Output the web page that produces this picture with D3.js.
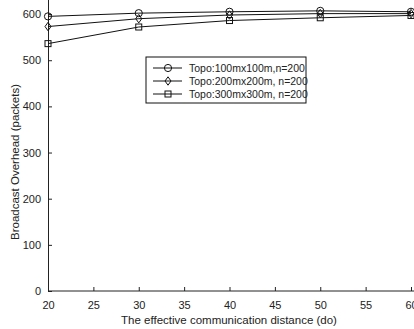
<!DOCTYPE html>
<html>
<head>
<meta charset="utf-8">
<script src="https://cdn.jsdelivr.net/npm/d3@7"></script>
<style>
  body { margin: 0; background: #fff; overflow: hidden; }
  svg { display: block; font-family: "Liberation Sans", Arial, sans-serif; }
</style>
</head>
<body>
<div id="chart"></div>
<script>
const distances = [20, 30, 40, 50, 60]
const topo100 = [595, 602, 605, 607, 605]
const topo200 = [573, 590, 598, 601, 601]
const topo300 = [536, 572, 586, 592, 597]
const seriesNames = ["Topo:100mx100m,n=200", "Topo:200mx200m, n=200", "Topo:300mx300m, n=200"]
const seriesShapes = ["circle", "diamond", "square"]
const xTicks = [20, 25, 30, 35, 40, 45, 50, 55, 60]
const yTicks = [0, 100, 200, 300, 400, 500, 600]

const W = 414, H = 329

const svg = d3.select("#chart").append("svg")
  .attr("width", W)
  .attr("height", H)

const x = d3.scaleLinear().domain([20, 60]).range([48, 411])
const y = d3.scaleLinear().domain([0, 650]).range([291, -9])

// axes (ticks point inward, like the matlab figure)
svg.append("g")
  .attr("transform", `translate(0, ${y(0)})`)
  .call(d3.axisBottom(x).tickValues(xTicks).tickSizeInner(-4).tickSizeOuter(0).tickPadding(10))
  .call(g => g.select(".domain").attr("d", `M${x(20)},0H${W + 10}`))

svg.append("g")
  .attr("transform", `translate(${x(20)}, 0)`)
  .call(d3.axisLeft(y).tickValues(yTicks).tickSizeInner(-4).tickSizeOuter(0).tickPadding(7))

svg.selectAll(".tick text").attr("font-size", 11).attr("fill", "#222")
svg.selectAll(".tick line, .domain").attr("stroke", "#222")

// labels
svg.append("text")
  .attr("x", 229)
  .attr("y", 324)
  .attr("text-anchor", "middle")
  .attr("font-size", 11.5)
  .attr("fill", "#222")
  .text("The effective communication distance (do)")

svg.append("text")
  .attr("transform", "rotate(-90)")
  .attr("x", -162)
  .attr("y", 19)
  .attr("text-anchor", "middle")
  .attr("font-size", 11.5)
  .attr("fill", "#222")
  .text("Broadcast Overhead (packets)")

// markers
function marker(g, shape) {
  if (shape === "circle") {
    g.append("circle").attr("r", 3.6)
  } else if (shape === "diamond") {
    g.append("path").attr("d", "M0,-4.2L3,0L0,4.2L-3,0Z")
  } else {
    g.append("rect").attr("x", -3).attr("y", -3).attr("width", 6).attr("height", 6)
  }
  g.selectAll("*").attr("fill", "none").attr("stroke", "#111").attr("stroke-width", 1)
}

const allSeries = [topo100, topo200, topo300]
const line = d3.line()
  .x((d, i) => x(distances[i]))
  .y(d => y(d))

allSeries.forEach((vals, s) => {
  svg.append("path")
    .datum(vals)
    .attr("fill", "none")
    .attr("stroke", "#111")
    .attr("stroke-width", 1)
    .attr("d", line)

  vals.forEach((v, i) => {
    const g = svg.append("g").attr("transform", `translate(${x(distances[i])}, ${y(v)})`)
    marker(g, seriesShapes[s])
  })
})

// legend
const legend = svg.append("g").attr("transform", "translate(146, 57)")
legend.append("rect")
  .attr("width", 160)
  .attr("height", 46)
  .attr("fill", "#fff")
  .attr("stroke", "#111")
  .attr("stroke-width", 1)

seriesNames.forEach((name, i) => {
  const row = legend.append("g").attr("transform", `translate(0, ${11 + i * 13})`)
  row.append("line")
    .attr("x1", 7).attr("x2", 36)
    .attr("stroke", "#111")
  marker(row.append("g").attr("transform", "translate(22, 0)"), seriesShapes[i])
  row.append("text")
    .attr("x", 43)
    .attr("y", 3.8)
    .attr("font-size", 10.5)
    .attr("fill", "#222")
    .text(name)
})
</script>
</body>
</html>
